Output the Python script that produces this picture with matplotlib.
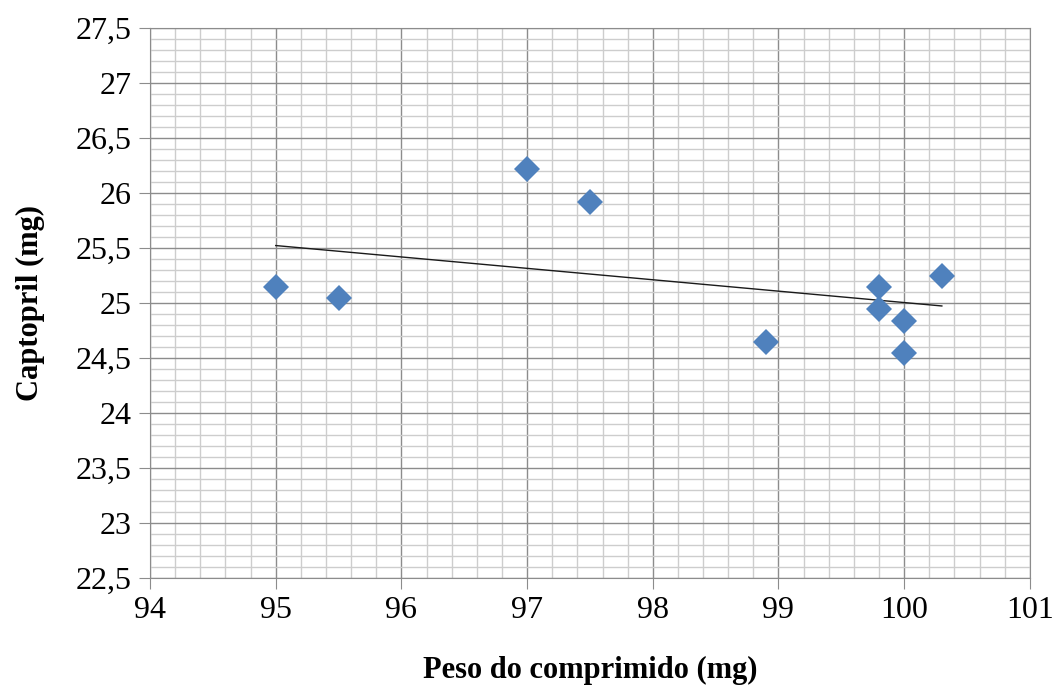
import matplotlib
matplotlib.use("Agg")
import matplotlib.pyplot as plt
from matplotlib.ticker import MultipleLocator, FuncFormatter
import numpy as np

# peso do comprimido (mg) x captopril (mg)
peso = [95.0, 95.5, 97.0, 97.5, 98.9, 99.8, 99.8, 100.0, 100.0, 100.3]
captopril = [25.15, 25.05, 26.22, 25.92, 24.65, 25.15, 24.95, 24.84, 24.55, 25.25]

plt.rcParams['font.family'] = ['Liberation Serif', 'DejaVu Serif']

fig = plt.figure(figsize=(10.53, 6.85), dpi=100)
ax = fig.add_axes([0.1425, 0.156, 0.8355, 0.803])

# linha de tendencia (minimos quadrados)
coef = np.polyfit(peso, captopril, 1)
xl = np.array([min(peso), max(peso)])
ax.plot(xl, np.polyval(coef, xl), color='#1a1a1a', lw=1.0, zorder=3)

ax.plot(peso, captopril, 'D', color='#4F81BD', markersize=13,
        markeredgewidth=0, zorder=4)

ax.set_xlim(94, 101)
ax.set_ylim(22.5, 27.5)
ax.xaxis.set_major_locator(MultipleLocator(1))
ax.xaxis.set_minor_locator(MultipleLocator(0.2))
ax.yaxis.set_major_locator(MultipleLocator(0.5))
ax.yaxis.set_minor_locator(MultipleLocator(0.1))

def virgula(v, pos):
    s = ('%g' % round(v, 2))
    return s.replace('.', ',')

ax.xaxis.set_major_formatter(FuncFormatter(virgula))
ax.yaxis.set_major_formatter(FuncFormatter(virgula))

ax.grid(which='major', color='#8c8c8c', lw=1.0)
ax.grid(which='minor', color='#cdcdcd', lw=1.0)
ax.set_axisbelow(True)

for s in ax.spines.values():
    s.set_color('#8c8c8c')
ax.tick_params(which='major', length=8, color='#8c8c8c', labelsize=23, pad=5)
ax.tick_params(which='minor', length=0)

ax.set_xlabel('Peso do comprimido (mg)', fontsize=22, fontweight='bold', labelpad=22)
ax.set_ylabel('Captopril (mg)', fontsize=22, fontweight='bold', labelpad=22)

fig.savefig('out.png', dpi=100)
